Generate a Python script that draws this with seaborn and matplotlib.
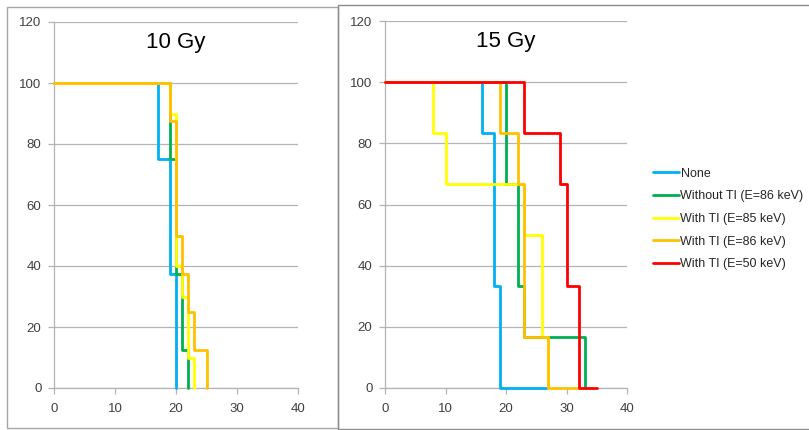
import numpy as np
import pandas as pd
import matplotlib.pyplot as plt
import seaborn as sns
from matplotlib.patches import Rectangle

# Kaplan-Meier style survival (%) vs days
labels = ["None", "Without TI (E=86 keV)", "With TI (E=85 keV)",
          "With TI (E=86 keV)", "With TI (E=50 keV)"]
colors = ["#00b0f0", "#00b050", "#ffff00", "#ffc000", "#ff0000"]

# 10 Gy panel (no red series)
t10 = [
    [0, 17, 19, 20],
    [0, 19, 20, 21, 22],
    [0, 19, 20, 21, 22, 23],
    [0, 19, 20, 21, 22, 23, 25],
]
s10 = [
    [100, 75, 37.5, 0],
    [100, 75, 37.5, 12.5, 0],
    [100, 90, 40, 30, 10, 0],
    [100, 87.5, 50, 37.5, 25, 12.5, 0],
]

# 15 Gy panel
t15 = [
    [0, 16, 18, 19, 27],
    [0, 20, 22, 23, 33],
    [0, 8, 10, 23, 26, 27],
    [0, 19, 22, 23, 27, 32],
    [0, 23, 29, 30, 32, 35],
]
s15 = [
    [100, 83.3, 33.3, 0, 0],
    [100, 66.7, 33.3, 16.7, 0],
    [100, 83.3, 66.7, 50, 16.7, 0],
    [100, 83.3, 66.7, 16.7, 0, 0],
    [100, 83.3, 66.7, 33.3, 0, 0],
]

sns.set_style("white")
plt.rcParams["font.family"] = ["Liberation Sans", "DejaVu Sans"]

fig = plt.figure(figsize=(8.09, 4.30), dpi=100)
W, H = 809, 430

# chart frames like the two pasted Excel charts
fig.add_artist(Rectangle((7 / W, 1 - 428 / H), 331 / W, 421 / H,
                         transform=fig.transFigure, fill=False,
                         edgecolor="#a6a6a6", linewidth=1.0))
fig.add_artist(Rectangle((338 / W, 1 - 429 / H), 480 / W, 424 / H,
                         transform=fig.transFigure, fill=False,
                         edgecolor="#8c8c8c", linewidth=1.0))

ax1 = fig.add_axes([54 / W, 1 - 388 / H, 244 / W, 366 / H])
ax2 = fig.add_axes([385 / W, 1 - 388 / H, 242 / W, 367 / H])


def draw(ax, times, survs, cols, labs, title, legend):
    for t, s, c, lab in zip(times, survs, cols, labs):
        df = pd.DataFrame({"day": t, "surv": s})
        sns.lineplot(data=df, x="day", y="surv", ax=ax, color=c,
                     drawstyle="steps-post", estimator=None, sort=False,
                     linewidth=2.0, clip_on=False, zorder=3,
                     label=lab if legend else None)
    ax.set_xlim(0, 40)
    ax.set_ylim(0, 120)
    ax.set_xticks(np.arange(0, 41, 10))
    ax.set_yticks(np.arange(0, 121, 20))
    ax.grid(axis="y", color="#b3b3b3", linewidth=0.9)
    ax.set_axisbelow(True)
    for side in ["top", "right"]:
        ax.spines[side].set_visible(False)
    for side in ["left", "bottom"]:
        ax.spines[side].set_color("#b3b3b3")
        ax.spines[side].set_linewidth(0.9)
    ax.tick_params(axis="both", which="both", length=4, width=0.9,
                   color="#b3b3b3", labelsize=9.5, labelcolor="#404040",
                   direction="out", left=True, bottom=True)
    ax.tick_params(axis="x", pad=7)
    ax.tick_params(axis="y", pad=5)
    ax.set_xlabel("")
    ax.set_ylabel("")
    ax.text(0.5, 0.945, title, transform=ax.transAxes, ha="center",
            va="center", fontsize=16, color="black")


draw(ax1, t10, s10, colors[:4], labels[:4], "10 Gy", False)
draw(ax2, t15, s15, colors, labels, "15 Gy", True)

ax2.legend(loc="center left", bbox_to_anchor=(653 / W, 1 - 219 / H),
           bbox_transform=fig.transFigure, frameon=False, fontsize=9,
           handlelength=2.1, handletextpad=0.1, labelspacing=0.85,
           borderaxespad=0, borderpad=0)

fig.savefig("out.png", dpi=100)
